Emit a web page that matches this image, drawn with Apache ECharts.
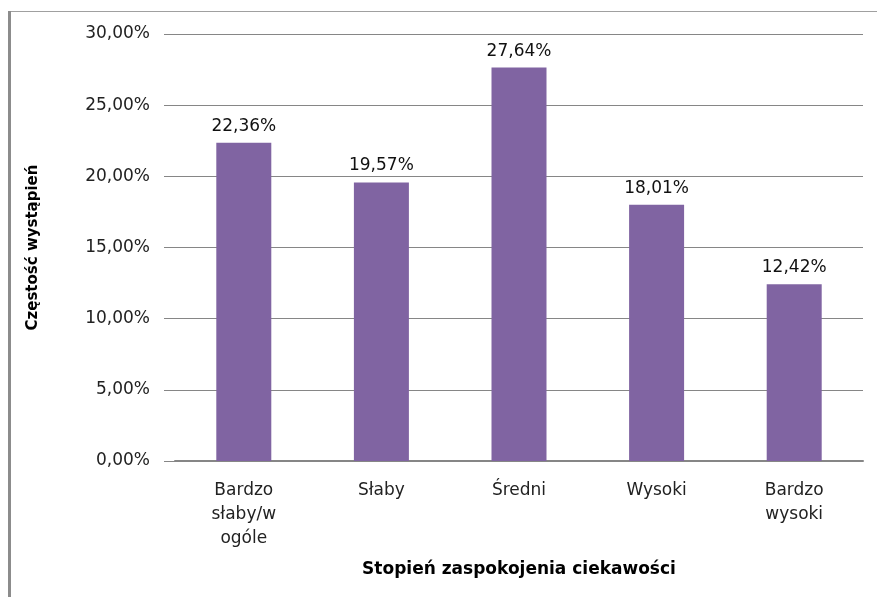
<!DOCTYPE html>
<html><head><meta charset="utf-8">
<script src="https://cdn.jsdelivr.net/npm/echarts@6/dist/echarts.min.js"></script>
<style>html,body{margin:0;padding:0;background:#fff}#c{width:877px;height:597px}</style>
</head><body><div id="c"></div>
<script>
const categories = ['Bardzo\nsłaby/w\nogóle', 'Słaby', 'Średni', 'Wysoki', 'Bardzo\nwysoki'];
const values = [22.36, 19.57, 27.64, 18.01, 12.42];
const yTicks = {min: 0, max: 30, interval: 5};
const xTitle = 'Stopień zaspokojenia ciekawości';
const yTitle = 'Częstość wystąpień';

const fmt = v => v.toFixed(2).replace('.', ',') + '%';
const FONT = 'DejaVu Sans';
const chart = echarts.init(document.getElementById('c'), null, {renderer: 'canvas'});
chart.setOption({
  animation: false,
  backgroundColor: '#fff',
  graphic: [
    {type: 'line', shape: {x1: 9, y1: 11.5, x2: 877, y2: 11.5}, style: {stroke: '#a0a0a0', lineWidth: 1}},
    {type: 'line', shape: {x1: 9.5, y1: 11, x2: 9.5, y2: 597}, style: {stroke: '#8c8c8c', lineWidth: 3}}
  ],
  grid: {left: 175, right: 14, top: 34, bottom: 136, containLabel: false},
  xAxis: {
    type: 'category', data: categories,
    name: xTitle, nameLocation: 'middle', nameGap: 100,
    nameTextStyle: {fontFamily: FONT, fontSize: 17, fontWeight: 'bold', color: '#000'},
    axisLine: {lineStyle: {color: '#868686', width: 2}},
    axisTick: {show: false},
    axisLabel: {fontFamily: FONT, fontSize: 17, color: '#222', margin: 18, lineHeight: 24, interval: 0}
  },
  yAxis: {
    type: 'value', min: yTicks.min, max: yTicks.max, interval: yTicks.interval,
    name: yTitle, nameLocation: 'middle', nameGap: 134, nameRotate: 90,
    nameTextStyle: {fontFamily: FONT, fontSize: 15, fontWeight: 'bold', color: '#000'},
    axisLine: {show: false},
    axisTick: {show: true, length: 11, lineStyle: {color: '#868686'}},
    splitLine: {lineStyle: {color: '#868686', width: 1}},
    axisLabel: {fontFamily: FONT, fontSize: 17, color: '#222', margin: 25, formatter: v => fmt(v)}
  },
  series: [{
    type: 'bar', data: values, barWidth: 55,
    itemStyle: {color: '#8064A2'},
    label: {show: true, position: 'top', distance: 8, fontFamily: FONT, fontSize: 17, color: '#111',
      formatter: p => fmt(p.value)}
  }]
});
</script></body></html>
